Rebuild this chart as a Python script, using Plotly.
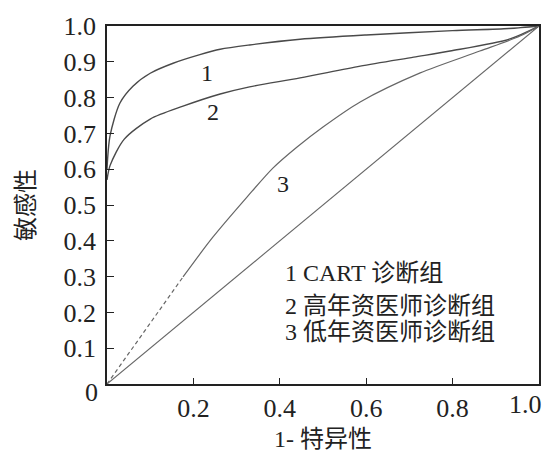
import plotly.graph_objects as go

# Curve 1: CART
x1 = [0.0, 0.007, 0.03, 0.06, 0.1, 0.153, 0.215, 0.262, 0.33, 0.447, 0.6, 0.8, 0.93, 1.0]
y1 = [0.60, 0.693, 0.785, 0.832, 0.868, 0.896, 0.92, 0.935, 0.947, 0.963, 0.975, 0.987, 0.993, 1.0]
# Curve 2: senior physicians
x2 = [0.0, 0.007, 0.04, 0.1, 0.176, 0.262, 0.33, 0.447, 0.586, 0.71, 0.794, 0.933, 1.0]
y2 = [0.57, 0.61, 0.684, 0.74, 0.776, 0.81, 0.83, 0.855, 0.888, 0.913, 0.93, 0.964, 1.0]
# Curve 3: junior physicians
x3 = [0.0, 0.09, 0.176, 0.245, 0.324, 0.384, 0.44, 0.5, 0.586, 0.725, 0.863, 0.956, 1.0]
y3 = [0.0, 0.152, 0.299, 0.41, 0.522, 0.603, 0.662, 0.718, 0.788, 0.869, 0.93, 0.972, 1.0]
# Reference diagonal
xd = [0.0, 1.0]
yd = [0.0, 1.0]

xticks = [0.2, 0.4, 0.6, 0.8, 1.0]
xticktext = ["0.2", "0.4", "0.6", "0.8", "1.0"]
yticks = [0.1, 0.2, 0.3, 0.4, 0.5, 0.6, 0.7, 0.8, 0.9, 1.0]
yticktext = ["0.1", "0.2", "0.3", "0.4", "0.5", "0.6", "0.7", "0.8", "0.9", "1.0"]

curve_labels = ["1", "2", "3"]
curve_label_pos = [(0.231, 0.87), (0.245, 0.76), (0.407, 0.56)]
legend_lines = ["1 CART 诊断组", "2 高年资医师诊断组", "3 低年资医师诊断组"]
legend_y = [0.31, 0.218, 0.145]

SERIF = "Liberation Serif, Noto Sans CJK SC, serif"
LINE = "#4a4a4a"

fig = go.Figure()
fig.add_trace(go.Scatter(x=xd, y=yd, mode="lines", line=dict(color="#666", width=1.1)))
fig.add_trace(go.Scatter(x=x1, y=y1, mode="lines",
                         line=dict(color=LINE, width=1.4, shape="spline", smoothing=0.8)))
fig.add_trace(go.Scatter(x=x2, y=y2, mode="lines",
                         line=dict(color=LINE, width=1.4, shape="spline", smoothing=0.8)))
fig.add_trace(go.Scatter(x=x3[:3], y=y3[:3], mode="lines", line=dict(color="#666", width=1.2, dash="4px,3px")))
fig.add_trace(go.Scatter(x=x3[2:], y=y3[2:], mode="lines",
                         line=dict(color="#666", width=1.2, shape="spline", smoothing=0.8)))

for t, (px, py) in zip(curve_labels, curve_label_pos):
    fig.add_annotation(x=px, y=py, text=t, showarrow=False, font=dict(family=SERIF, size=24, color="#222"))

for t, ly in zip(legend_lines, legend_y):
    fig.add_annotation(x=0.407, y=ly, text=t, showarrow=False, xanchor="left",
                       font=dict(family=SERIF, size=24, color="#222"))

# origin label shared by both axes
fig.add_annotation(x=0, y=0, text="0", showarrow=False, xanchor="right", yanchor="middle",
                   xshift=-7, yshift=-8, font=dict(family=SERIF, size=26, color="#222"))
# last x tick label, shifted left so it stays inside the figure
fig.add_annotation(x=xticks[-1], y=0, text=xticktext[-1], showarrow=False, xanchor="right",
                   yanchor="top", xshift=5, yshift=-4, font=dict(family=SERIF, size=26, color="#222"))

fig.update_layout(
    width=548, height=453,
    margin=dict(l=107, r=9, t=26, b=69),
    paper_bgcolor="white", plot_bgcolor="white",
    showlegend=False,
    xaxis=dict(range=[0, 1], tickvals=xticks, ticktext=xticktext[:-1] + [""], ticks="inside", ticklen=6,
               tickcolor="#222", showgrid=False, zeroline=False, showline=True, linecolor="#222",
               linewidth=1.6, mirror=True, tickfont=dict(family=SERIF, size=26, color="#222"),
               automargin=False,
               title=dict(text="1- 特异性", font=dict(family=SERIF, size=24, color="#222"), standoff=8)),
    yaxis=dict(range=[0, 1], tickvals=yticks, ticktext=yticktext, ticks="inside", ticklen=7,
               tickcolor="#222", showgrid=False, zeroline=False, showline=True, linecolor="#222",
               linewidth=1.6, mirror=True, tickfont=dict(family=SERIF, size=26, color="#222"),
               ticklabelstandoff=4, automargin=False, ticklabeloverflow="allow",
               title=dict(text="敏感性", font=dict(family=SERIF, size=24, color="#222"), standoff=22)),
)

fig.write_html("out.html", config={"displayModeBar": False},
               post_script="document.body.style.margin='0';")
